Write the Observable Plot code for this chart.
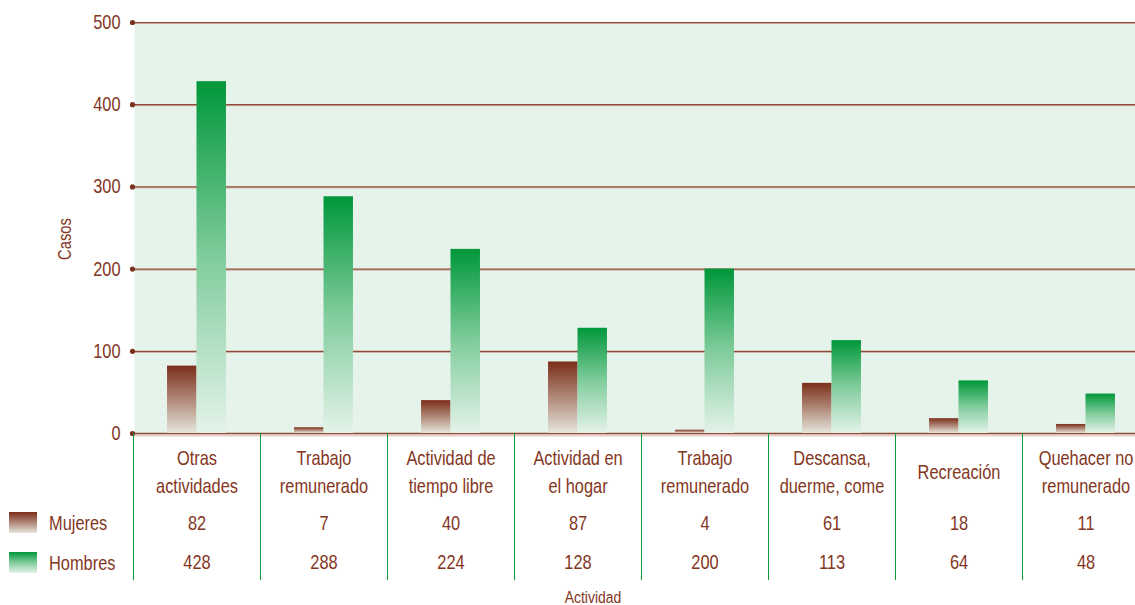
<!DOCTYPE html>
<html><head><meta charset="utf-8">
<script src="https://cdn.jsdelivr.net/npm/d3@7"></script>
<script src="https://cdn.jsdelivr.net/npm/@observablehq/plot@0.6"></script>
<style>
body{margin:0;background:#fff}
#chart{width:1135px;height:605px;overflow:hidden;position:relative}
svg text{font-family:"Liberation Sans",Arial,sans-serif}
</style>
</head><body><div id="chart"></div>
<script>
const categories = ["Otras\nactividades","Trabajo\nremunerado","Actividad de\ntiempo libre","Actividad en\nel hogar","Trabajo\nremunerado","Descansa,\nduerme, come","Recreación","Quehacer no\nremunerado"];
const series = ["Mujeres","Hombres"];
const mujeres = [82,7,40,87,4,61,18,11];
const hombres = [428,288,224,128,200,113,64,48];
const yTicks = [0,100,200,300,400,500];

const brown = "#83361e";
const FONT = '"Liberation Sans",Arial,sans-serif';
const NARROW = 0.82;
const idx = categories.map((_, i) => i);
const bw = 0.232;
const rowsM = idx.map(i => ({i, value: mujeres[i]}));
const rowsH = idx.map(i => ({i, value: hombres[i]}));

const svg = Plot.plot({
  width: 1135, height: 605,
  marginLeft: 134, marginRight: 0, marginTop: 22, marginBottom: 172,
  style: {fontFamily: FONT, color: brown, background: "#fff", overflow: "hidden"},
  x: {type: "linear", domain: [-0.5, 7.5], range: [133, 1149], axis: null},
  y: {domain: [0, 500], axis: null},
  marks: [
    Plot.frame({fill: "#e6f3ea", stroke: null}),
    Plot.ruleY(yTicks.slice(1), {x1: -0.5, x2: 7.5, stroke: "#c9a397", strokeWidth: 1, dy: 1}),
    Plot.ruleY(yTicks.slice(1), {x1: -0.5, x2: 7.5, stroke: "#8e4a36", strokeWidth: 1.2}),
    Plot.ruleY([0], {x1: -0.5, x2: 7.5, stroke: "#e6cfc8", strokeWidth: 2, dy: 2}),
    Plot.ruleY([0], {x1: -0.5, x2: 7.5, stroke: "#8e4a36", strokeWidth: 1.4}),
    Plot.rectY(rowsM, {x1: d => d.i - bw, x2: d => d.i, y: "value", fill: "url(#gM)"}),
    Plot.rectY(rowsH, {x1: d => d.i, x2: d => d.i + bw, y: "value", fill: "url(#gH)"}),
    Plot.dot(yTicks, {x: -0.5, y: d => d, r: 2.6, fill: "#7a3220", stroke: null, dx: -1}),
    Plot.text(yTicks, {x: -0.5, y: d => d, text: d => String(d), textAnchor: "end", lineAnchor: "middle", dx: -13, fontSize: 20, fill: brown}),
    Plot.text(["Casos"], {frameAnchor: "left", textAnchor: "middle", lineAnchor: "middle", dx: -69, dy: 11, rotate: -90, fontSize: 18, fill: brown}),
    Plot.ruleX(idx, {x: d => d - 0.5, y1: 0, y2: -179, stroke: "#0f9a3c", strokeWidth: 1}),
    Plot.text(idx, {x: d => d, text: d => categories[d], frameAnchor: "bottom", lineAnchor: "middle", dy: 37, lineHeight: 1.4, fontSize: 20, fill: brown}),
    Plot.text(idx, {x: d => d, text: d => String(mujeres[d]), frameAnchor: "bottom", lineAnchor: "middle", dy: 90, fontSize: 20, fill: brown}),
    Plot.text(idx, {x: d => d, text: d => String(hombres[d]), frameAnchor: "bottom", lineAnchor: "middle", dy: 129, fontSize: 20, fill: brown}),
    Plot.text(["Actividad"], {frameAnchor: "bottom", lineAnchor: "middle", dx: -42, dy: 164, fontSize: 17, fill: brown})
  ]
});

const s = d3.select(svg);
const defs = s.insert("defs", ":first-child");
const gm = defs.append("linearGradient").attr("id", "gM").attr("x1", 0).attr("y1", 0).attr("x2", 0).attr("y2", 1);
gm.append("stop").attr("offset", "0%").attr("stop-color", "#7b2e19");
gm.append("stop").attr("offset", "50%").attr("stop-color", "#b08878");
gm.append("stop").attr("offset", "100%").attr("stop-color", "#e6e6dc");
const gh = defs.append("linearGradient").attr("id", "gH").attr("x1", 0).attr("y1", 0).attr("x2", 0).attr("y2", 1);
gh.append("stop").attr("offset", "0%").attr("stop-color", "#00973a");
gh.append("stop").attr("offset", "50%").attr("stop-color", "#80cc9c");
gh.append("stop").attr("offset", "100%").attr("stop-color", "#e4f3e9");

// legend
const leg = s.append("g");
series.forEach((name, k) => {
  const cy = k === 0 ? 523 : 563;
  leg.append("rect").attr("x", 9).attr("y", cy - 11).attr("width", 28).attr("height", 21)
    .attr("fill", k === 0 ? "url(#gM)" : "url(#gH)");
  leg.append("text").attr("transform", `translate(49,${cy})`).attr("dy", "0.35em")
    .attr("text-anchor", "start")
    .attr("font-size", 20).attr("fill", brown).attr("font-family", FONT).text(name);
});

// condensed look: compress every text horizontally around its anchor
s.selectAll("text").each(function() {
  const t = this.getAttribute("transform");
  if (t !== null) this.setAttribute("transform", t + ` scale(${NARROW},1)`);
});

document.getElementById("chart").appendChild(svg);
</script></body></html>
